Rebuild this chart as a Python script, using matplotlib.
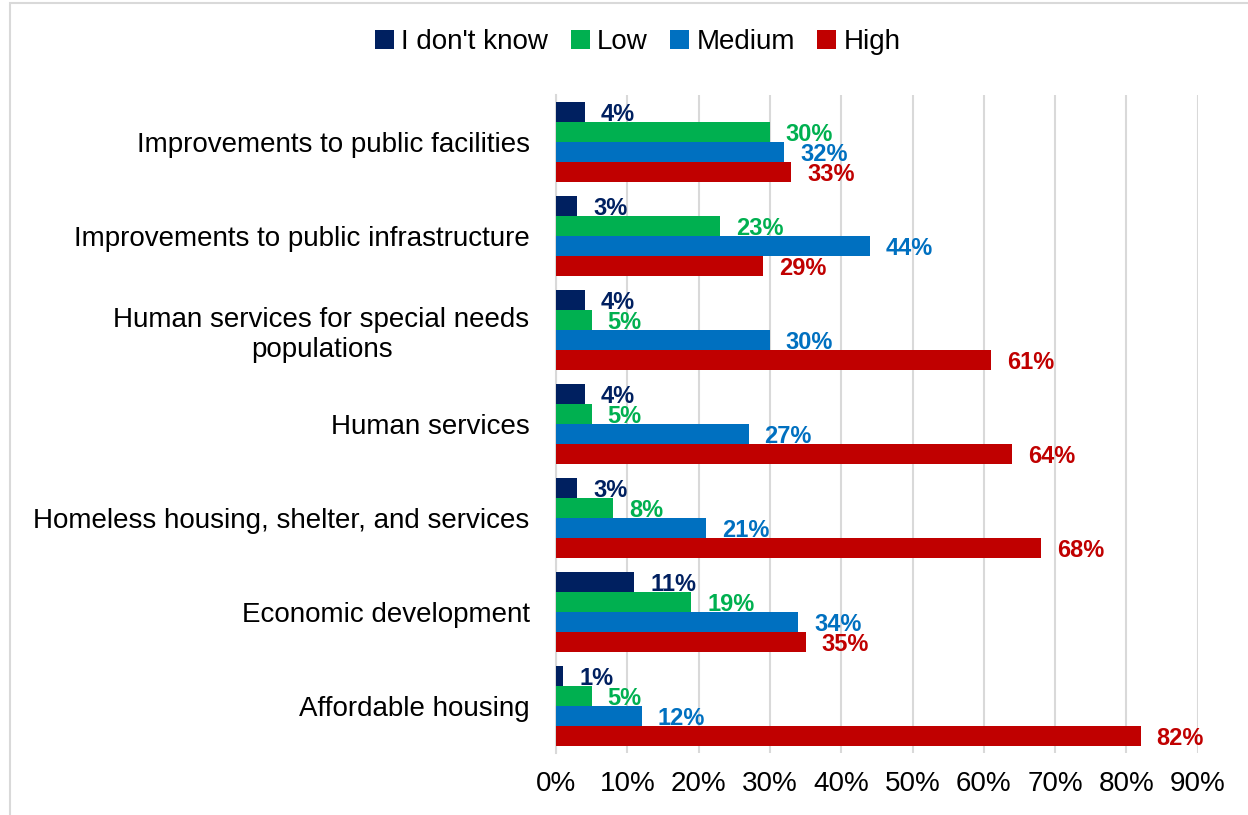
import matplotlib.pyplot as plt
import numpy as np
from matplotlib.patches import Rectangle

plt.rcParams['font.family'] = ['Liberation Sans', 'DejaVu Sans']

categories = [
    'Improvements to public facilities',
    'Improvements to public infrastructure',
    'Human services for special needs\npopulations',
    'Human services',
    'Homeless housing, shelter, and services',
    'Economic development',
    'Affordable housing',
]
series = ["I don't know", 'Low', 'Medium', 'High']
dont_know = [4, 3, 4, 4, 3, 11, 1]
low = [30, 23, 5, 5, 8, 19, 5]
medium = [32, 44, 30, 27, 21, 34, 12]
high = [33, 29, 61, 64, 68, 35, 82]
colors = ['#002060', '#00B050', '#0070C0', '#C00000']

values = [dont_know, low, medium, high]

fig = plt.figure(figsize=(12.48, 8.15), dpi=100)
ax = fig.add_axes([556 / 1248, 1 - 753 / 815, (1197.7 - 556) / 1248, (753 - 95) / 815])

y = np.arange(len(categories))
h = 0.213
for k, (name, vals, col) in enumerate(zip(series, values, colors)):
    pos = y + (k - 1.5) * h
    v = np.array(vals) / 100
    ax.barh(pos, v, height=h, color=col, label=name, zorder=3)
    for p, val in zip(pos, vals):
        ax.annotate(f'{val}%', (val / 100, p), xytext=(11.5, -1.5),
                    textcoords='offset points', ha='left', va='center',
                    color=col, fontsize=17, fontweight='bold', zorder=4)

ax.set_xlim(0, 0.9)
ax.set_ylim(len(categories) - 0.5, -0.5)
ax.set_xticks(np.arange(0, 0.91, 0.1))
ax.set_xticklabels([f'{int(round(t * 100))}%' for t in np.arange(0, 0.91, 0.1)])
ax.set_yticks(y)
ax.set_yticklabels(categories, multialignment='center')
ax.tick_params(axis='both', length=0, labelsize=20)
ax.tick_params(axis='x', pad=13)
ax.tick_params(axis='y', pad=19)
ax.grid(axis='x', color='#D9D9D9', linewidth=1.5, zorder=0)
for s in ['top', 'right', 'bottom']:
    ax.spines[s].set_visible(False)
ax.spines['left'].set_color('#D9D9D9')
ax.spines['left'].set_linewidth(1.5)

fig.legend(loc='center', bbox_to_anchor=(0.511, 0.948), ncol=4, frameon=False,
           fontsize=20, handlelength=0.7, handleheight=0.7,
           handletextpad=0.25, columnspacing=0.8)

fig.patches.append(Rectangle((10 / 1248, -0.1), 1.2, 1 - 3 / 815 + 0.1,
                             transform=fig.transFigure, fill=False,
                             edgecolor='#D9D9D9', linewidth=1.5))

fig.savefig('out.png', dpi=100)
